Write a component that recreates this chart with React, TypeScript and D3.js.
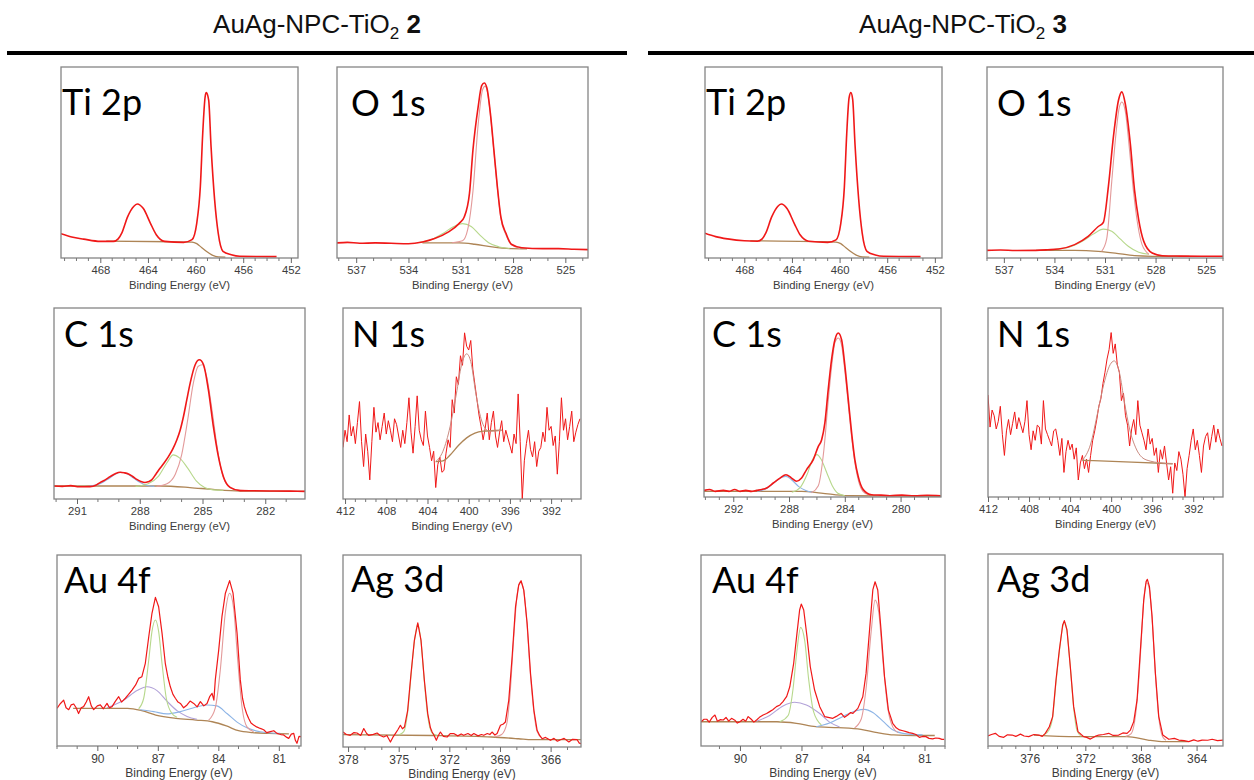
import * as React from 'react'
import * as d3 from 'd3'

// ---- sample titles ----
const sampleNames = ['AuAg-NPC-TiO', 'AuAg-NPC-TiO']
const sampleIds = ['2', '3']

// ---- tick labels (binding energy, eV) ----
const ti2pTicks = [468, 464, 460, 456, 452]
const o1sTicks = [537, 534, 531, 528, 525]
const c1sTicksL = [291, 288, 285, 282]
const c1sTicksR = [292, 288, 284, 280]
const n1sTicks = [412, 408, 404, 400, 396, 392]
const au4fTicks = [90, 87, 84, 81]
const ag3dTicksL = [378, 375, 372, 369, 366]
const ag3dTicksR = [376, 372, 368, 364]

// ---- energy windows ----
const ti2pDomain = [471.3, 451.4]
const o1sDomainL = [538.1, 523.7]
const o1sDomainR = [538.0, 524.0]
const c1sDomainL = [292.1, 280.1]
const c1sDomainR = [294.1, 277.1]
const n1sDomainL = [412.2, 389.1]
const n1sDomainR = [412.0, 389.1]
const au4fDomainL = [92.0, 79.9]
const au4fDomainR = [91.9, 80.0]
const ag3dDomainL = [378.3, 364.2]
const ag3dDomainR = [379.0, 362.1]

// ---- spectra: [binding energy, relative intensity] ----
const ti2pL = [[471.3,0.127],[470.4,0.11],[469.4,0.099],[468.0,0.087],[466.9,0.087],[466.5,0.1],[466.2,0.13],[465.7,0.217],[465.2,0.27],[464.9,0.283],[464.4,0.26],[463.8,0.183],[463.3,0.122],[462.6,0.087],[461.0,0.082],[460.3,0.096],[459.9,0.183],[459.6,0.374],[459.4,0.652],[459.2,0.843],[459.1,0.866],[458.9,0.826],[458.7,0.583],[458.4,0.304],[458.1,0.13],[457.7,0.035],[457.0,0.017],[456.3,0.009],[453.2,0.007]]
const ti2pBgL = [[467.5,0.088],[462.0,0.085],[460.3,0.083],[459.9,0.075],[459.5,0.055],[459.1,0.035],[458.6,0.015],[458.1,0.006],[457.5,0.005]]
const ti2pR = [[471.3,0.13],[470.4,0.112],[469.4,0.1],[468.0,0.09],[466.9,0.088],[466.5,0.1],[466.2,0.13],[465.7,0.215],[465.2,0.27],[464.9,0.283],[464.4,0.258],[463.8,0.18],[463.3,0.12],[462.6,0.088],[461.0,0.082],[460.3,0.095],[459.9,0.18],[459.6,0.37],[459.4,0.65],[459.2,0.84],[459.05,0.866],[458.9,0.83],[458.7,0.59],[458.4,0.31],[458.1,0.13],[457.7,0.035],[457.0,0.016],[456.3,0.009],[453.2,0.007]]
const ti2pBgR = [[467.5,0.09],[462.0,0.086],[460.3,0.083],[459.9,0.075],[459.5,0.055],[459.1,0.035],[458.6,0.015],[458.1,0.006],[457.5,0.005]]

const o1sL = [[538.1,0.079],[537.5,0.082],[536.8,0.077],[535.9,0.079],[535.0,0.077],[534.0,0.075],[533.2,0.084],[532.5,0.102],[531.7,0.137],[531.1,0.18],[530.8,0.215],[530.5,0.338],[530.3,0.566],[530.0,0.793],[529.8,0.902],[529.65,0.916],[529.5,0.89],[529.3,0.757],[529.1,0.566],[528.9,0.373],[528.7,0.215],[528.4,0.128],[528.1,0.072],[527.5,0.054],[526.3,0.049],[525.4,0.049],[524.5,0.046],[523.7,0.044]]
const o1sGreenL = [[533.5,0.08],[532.7,0.095],[532.0,0.13],[531.4,0.165],[530.9,0.18],[530.4,0.165],[529.9,0.12],[529.4,0.08],[528.8,0.058],[528.2,0.05]]
const o1sMainL = [[531.5,0.08],[530.9,0.09],[530.6,0.15],[530.3,0.35],[530.0,0.7],[529.75,0.88],[529.6,0.9],[529.45,0.86],[529.3,0.75],[529.1,0.56],[528.9,0.37],[528.7,0.21],[528.4,0.12],[528.1,0.07],[527.6,0.05]]
const o1sBgL = [[533.2,0.079],[531.1,0.079],[530.2,0.072],[529.2,0.058],[528.1,0.049],[527.2,0.048]]
const o1sR = [[538.0,0.04],[537.2,0.042],[536.3,0.039],[535.1,0.04],[534.4,0.043],[533.75,0.047],[532.8,0.07],[532.0,0.113],[531.4,0.165],[531.1,0.186],[530.8,0.374],[530.5,0.635],[530.2,0.826],[530.0,0.87],[529.8,0.809],[529.5,0.6],[529.25,0.357],[529.0,0.2],[528.7,0.087],[528.2,0.026],[527.6,0.012],[526.5,0.01],[525.3,0.009],[524.0,0.009]]
const o1sGreenR = [[534.0,0.045],[533.0,0.06],[532.3,0.09],[531.7,0.125],[531.1,0.151],[530.6,0.14],[530.1,0.1],[529.6,0.06],[529.0,0.03],[528.4,0.02]]
const o1sMainR = [[531.2,0.035],[530.9,0.1],[530.6,0.4],[530.35,0.65],[530.15,0.79],[530.0,0.817],[529.8,0.77],[529.55,0.57],[529.3,0.34],[529.05,0.17],[528.8,0.07],[528.4,0.02]]
const o1sBgR = [[535.1,0.04],[532.8,0.04],[531.4,0.035],[530.4,0.026],[529.25,0.012],[528.2,0.009],[526.0,0.008]]

const c1sL = [[292.1,0.068],[291.7,0.066],[291.3,0.07],[290.9,0.064],[290.38,0.065],[290.1,0.072],[289.9,0.086],[289.65,0.1],[289.42,0.117],[289.15,0.134],[288.94,0.14],[288.74,0.137],[288.54,0.131],[288.34,0.118],[288.14,0.103],[287.95,0.092],[287.75,0.086],[287.6,0.09],[287.43,0.1],[287.23,0.13],[287.03,0.161],[286.83,0.19],[286.63,0.222],[286.43,0.26],[286.23,0.309],[286.07,0.36],[285.91,0.432],[285.75,0.52],[285.59,0.607],[285.35,0.703],[285.15,0.729],[284.95,0.703],[284.72,0.572],[284.48,0.379],[284.24,0.222],[284.0,0.117],[283.68,0.061],[283.2,0.044],[282.6,0.043],[281.6,0.042],[280.8,0.041],[280.1,0.04]]
const c1sBlueL = [[290.4,0.068],[289.9,0.08],[289.5,0.105],[289.2,0.128],[288.9,0.14],[288.6,0.132],[288.3,0.11],[288.0,0.088],[287.7,0.072],[287.3,0.066]]
const c1sGreenL = [[288.2,0.066],[287.6,0.08],[287.1,0.12],[286.7,0.19],[286.4,0.231],[286.1,0.215],[285.7,0.16],[285.3,0.095],[284.9,0.06],[284.5,0.048],[284.0,0.046]]
const c1sMainL = [[287.2,0.066],[286.7,0.08],[286.3,0.13],[286.0,0.23],[285.7,0.42],[285.45,0.6],[285.2,0.695],[285.0,0.703],[284.8,0.64],[284.55,0.47],[284.3,0.27],[284.05,0.13],[283.75,0.065],[283.4,0.048],[283.0,0.044]]
const c1sBgL = [[292.1,0.068],[287.0,0.068],[285.6,0.06],[284.5,0.05],[283.2,0.042],[280.1,0.04]]
const c1sR = [[294.1,0.035],[293.7,0.04],[293.3,0.03],[292.71,0.035],[292.3,0.03],[291.9,0.04],[291.52,0.03],[291.1,0.035],[290.7,0.03],[290.32,0.035],[289.95,0.04],[289.61,0.048],[289.13,0.074],[288.65,0.1],[288.22,0.118],[287.82,0.1],[287.46,0.083],[287.1,0.1],[286.74,0.145],[286.26,0.198],[285.9,0.268],[285.66,0.303],[285.43,0.392],[285.19,0.568],[284.95,0.727],[284.71,0.832],[284.47,0.868],[284.23,0.832],[283.99,0.691],[283.75,0.515],[283.51,0.339],[283.28,0.198],[283.04,0.109],[282.68,0.039],[282.08,0.012],[281.4,0.01],[280.77,0.007],[279.9,0.01],[279.0,0.006],[278.1,0.009],[277.13,0.007]]
const c1sBlueR = [[290.3,0.03],[289.6,0.045],[289.0,0.08],[288.5,0.105],[288.22,0.109],[287.8,0.09],[287.3,0.055],[286.8,0.035],[286.3,0.025]]
const c1sGreenR = [[287.8,0.025],[287.2,0.05],[286.7,0.12],[286.3,0.2],[286.0,0.224],[285.7,0.2],[285.3,0.13],[284.9,0.06],[284.5,0.02],[284.0,0.007]]
const c1sMainR = [[286.4,0.022],[285.9,0.06],[285.5,0.25],[285.2,0.5],[284.9,0.72],[284.7,0.82],[284.47,0.841],[284.25,0.81],[284.0,0.67],[283.75,0.49],[283.5,0.31],[283.25,0.17],[283.0,0.08],[282.7,0.03],[282.3,0.012]]
const c1sBgR = [[294.1,0.03],[287.1,0.03],[285.7,0.021],[283.8,0.007],[277.1,0.004]]

// N 1s raw counts on a 0.2 eV grid
const n1sStep = 0.2
const n1sCountsL = [0.27,0.36,0.30,0.44,0.33,0.38,0.29,0.40,0.51,0.30,0.17,0.34,0.25,0.10,0.30,0.48,0.35,0.40,0.31,0.38,0.45,0.34,0.41,0.36,0.30,0.42,0.39,0.33,0.27,0.36,0.29,0.40,0.53,0.35,0.24,0.38,0.54,0.36,0.31,0.28,0.46,0.33,0.27,0.20,0.25,0.06,0.18,0.22,0.14,0.15,0.24,0.31,0.27,0.52,0.45,0.64,0.60,0.75,0.70,0.87,0.80,0.78,0.83,0.68,0.60,0.52,0.44,0.38,0.31,0.37,0.45,0.31,0.40,0.46,0.33,0.27,0.35,0.41,0.30,0.36,0.32,0.28,0.24,0.34,0.29,0.55,0.30,0.00,0.20,0.29,0.36,0.26,0.22,0.30,0.17,0.25,0.27,0.35,0.30,0.48,0.36,0.38,0.28,0.33,0.13,0.30,0.53,0.36,0.42,0.31,0.38,0.46,0.30,0.35,0.39,0.42]
const n1sCountsR = [0.54,0.37,0.46,0.43,0.36,0.40,0.48,0.33,0.22,0.35,0.41,0.33,0.39,0.45,0.36,0.42,0.38,0.34,0.40,0.51,0.33,0.25,0.35,0.30,0.38,0.37,0.28,0.51,0.36,0.33,0.30,0.27,0.35,0.36,0.30,0.22,0.31,0.13,0.24,0.30,0.25,0.28,0.20,0.26,0.09,0.18,0.22,0.15,0.20,0.13,0.22,0.30,0.35,0.41,0.48,0.52,0.60,0.66,0.73,0.78,0.87,0.76,0.81,0.70,0.66,0.51,0.55,0.43,0.38,0.27,0.36,0.41,0.33,0.51,0.38,0.34,0.30,0.25,0.36,0.28,0.31,0.22,0.26,0.13,0.25,0.20,0.27,0.18,0.09,0.16,0.02,0.18,0.14,0.24,0.20,0.12,0.00,0.15,0.22,0.30,0.36,0.25,0.30,0.22,0.13,0.27,0.32,0.34,0.25,0.32,0.38,0.29,0.36,0.31,0.27]
const n1sFitL = [[403.2,0.196],[402.5,0.25],[401.8,0.38],[401.2,0.55],[400.7,0.7],[400.2,0.76],[399.8,0.72],[399.3,0.55],[398.8,0.42],[398.4,0.37],[398.0,0.355],[396.8,0.36]]
const n1sBgL = [[403.2,0.196],[402.5,0.2],[401.8,0.23],[401.0,0.28],[400.2,0.32],[399.4,0.345],[398.6,0.355],[396.8,0.36]]
const n1sFitR = [[402.8,0.194],[402.0,0.28],[401.3,0.45],[400.7,0.6],[400.1,0.7],[399.7,0.72],[399.2,0.66],[398.7,0.5],[398.2,0.36],[397.6,0.26],[397.0,0.21],[396.2,0.19],[395.4,0.182],[394.0,0.176]]
const n1sBgR = [[402.8,0.194],[398.0,0.185],[394.0,0.176]]

const au4fL = [[92.0,0.197],[91.85,0.22],[91.67,0.24],[91.55,0.2],[91.42,0.19],[91.3,0.215],[91.17,0.22],[91.05,0.2],[90.93,0.17],[90.8,0.2],[90.68,0.206],[90.55,0.23],[90.43,0.258],[90.3,0.21],[90.18,0.19],[90.0,0.21],[89.85,0.215],[89.7,0.195],[89.52,0.223],[89.4,0.2],[89.27,0.206],[89.1,0.235],[88.94,0.258],[88.8,0.23],[88.61,0.25],[88.45,0.27],[88.28,0.293],[88.1,0.32],[87.95,0.354],[87.79,0.363],[87.62,0.433],[87.45,0.572],[87.29,0.695],[87.12,0.778],[86.96,0.729],[86.79,0.59],[86.63,0.433],[86.5,0.36],[86.38,0.31],[86.25,0.27],[86.13,0.25],[86.0,0.23],[85.88,0.223],[85.72,0.2],[85.55,0.215],[85.4,0.235],[85.22,0.223],[85.05,0.205],[84.89,0.232],[84.72,0.21],[84.56,0.223],[84.42,0.26],[84.31,0.276],[84.22,0.24],[84.15,0.346],[83.98,0.503],[83.82,0.677],[83.65,0.8],[83.44,0.866],[83.27,0.8],[83.07,0.59],[82.91,0.346],[82.8,0.25],[82.71,0.206],[82.6,0.17],[82.5,0.145],[82.38,0.12],[82.25,0.11],[82.1,0.1],[81.92,0.092],[81.75,0.085],[81.6,0.07],[81.42,0.075],[81.25,0.08],[81.09,0.066],[80.9,0.06],[80.76,0.058],[80.6,0.045],[80.51,0.04],[80.38,0.062],[80.26,0.066],[80.18,0.03],[80.1,0.014],[80.0,0.05],[79.9,0.049]]
const au4fBgL = [[91.2,0.197],[88.5,0.197],[87.8,0.185],[87.1,0.162],[86.1,0.145],[85.1,0.136],[84.3,0.127],[83.6,0.105],[83.0,0.08],[82.3,0.07],[81.5,0.066],[80.5,0.064]]
const au4fPurpleL = [[89.52,0.2],[88.7,0.24],[88.03,0.29],[87.54,0.31],[87.04,0.29],[86.55,0.235],[86.05,0.185],[85.55,0.155],[85.06,0.14]]
const au4fGreenL = [[87.95,0.195],[87.7,0.25],[87.45,0.45],[87.29,0.6],[87.12,0.66],[86.96,0.6],[86.79,0.43],[86.58,0.25],[86.3,0.17],[86.05,0.15]]
const au4fBlueL = [[87.87,0.19],[87.2,0.18],[86.55,0.168],[85.88,0.18],[85.22,0.2],[84.56,0.215],[84.07,0.21],[83.57,0.17],[83.07,0.125],[82.58,0.095],[81.92,0.075],[80.93,0.066]]
const au4fMainL = [[84.48,0.135],[84.15,0.2],[83.9,0.4],[83.65,0.7],[83.44,0.8],[83.24,0.72],[83.04,0.45],[82.82,0.2],[82.58,0.1],[82.25,0.075]]
const au4fR = [[91.9,0.127],[91.75,0.14],[91.62,0.14],[91.5,0.125],[91.35,0.15],[91.22,0.162],[91.1,0.13],[90.95,0.138],[90.81,0.136],[90.68,0.15],[90.55,0.13],[90.41,0.145],[90.25,0.135],[90.13,0.12],[90.0,0.127],[89.85,0.14],[89.72,0.13],[89.6,0.154],[89.45,0.14],[89.32,0.125],[89.19,0.136],[89.05,0.15],[88.87,0.162],[88.7,0.17],[88.55,0.18],[88.4,0.19],[88.22,0.206],[88.05,0.215],[87.9,0.232],[87.72,0.26],[87.57,0.31],[87.38,0.433],[87.22,0.59],[87.09,0.712],[87.01,0.743],[86.89,0.712],[86.73,0.572],[86.57,0.415],[86.36,0.293],[86.11,0.206],[85.87,0.154],[85.7,0.15],[85.47,0.145],[85.3,0.155],[85.06,0.171],[84.9,0.15],[84.74,0.162],[84.6,0.175],[84.49,0.171],[84.25,0.197],[84.01,0.258],[83.85,0.38],[83.68,0.607],[83.52,0.817],[83.41,0.86],[83.28,0.817],[83.12,0.607],[82.95,0.363],[82.76,0.188],[82.55,0.119],[82.38,0.095],[82.22,0.084],[82.05,0.08],[81.9,0.075],[81.75,0.07],[81.58,0.066],[81.42,0.06],[81.25,0.045],[81.1,0.05],[80.93,0.049],[80.78,0.04],[80.6,0.037],[80.45,0.042],[80.28,0.04],[80.15,0.035],[80.04,0.035]]
const au4fBgR = [[91.9,0.127],[88.2,0.127],[87.25,0.119],[86.3,0.101],[85.2,0.096],[84.1,0.087],[83.3,0.07],[82.5,0.058],[81.5,0.055],[80.5,0.055]]
const au4fPurpleR = [[89.19,0.13],[88.55,0.16],[87.9,0.21],[87.33,0.229],[86.76,0.215],[86.11,0.17],[85.63,0.125],[85.14,0.1]]
const au4fGreenR = [[88.06,0.127],[87.65,0.16],[87.41,0.3],[87.22,0.5],[87.04,0.621],[86.84,0.55],[86.65,0.35],[86.41,0.18],[86.03,0.11]]
const au4fBlueR = [[86.28,0.101],[85.63,0.12],[84.98,0.155],[84.33,0.185],[83.93,0.192],[83.52,0.175],[83.03,0.13],[82.55,0.085],[82.06,0.066],[81.09,0.058]]
const au4fMainR = [[84.41,0.095],[84.09,0.14],[83.85,0.3],[83.6,0.6],[83.41,0.764],[83.23,0.7],[83.03,0.45],[82.79,0.2],[82.55,0.1],[82.3,0.07]]

const ag3dL = [[378.3,0.078],[378.1,0.065],[377.87,0.061],[377.65,0.075],[377.47,0.073],[377.25,0.06],[377.07,0.096],[376.9,0.07],[376.78,0.061],[376.5,0.066],[376.28,0.073],[376.1,0.06],[375.89,0.052],[375.7,0.06],[375.49,0.026],[375.35,0.05],[375.2,0.07],[375.05,0.09],[374.9,0.113],[374.78,0.095],[374.66,0.104],[374.47,0.19],[374.27,0.383],[374.07,0.557],[373.87,0.647],[373.68,0.557],[373.48,0.348],[373.28,0.174],[373.12,0.1],[373.02,0.078],[372.9,0.06],[372.77,0.035],[372.65,0.06],[372.53,0.078],[372.35,0.055],[372.13,0.052],[371.95,0.07],[371.74,0.07],[371.5,0.058],[371.3,0.068],[371.15,0.061],[370.9,0.07],[370.7,0.06],[370.55,0.07],[370.3,0.058],[370.1,0.065],[369.96,0.061],[369.75,0.07],[369.6,0.065],[369.47,0.078],[369.3,0.062],[369.17,0.07],[368.97,0.113],[368.8,0.12],[368.68,0.13],[368.48,0.243],[368.28,0.47],[368.08,0.73],[367.89,0.843],[367.75,0.866],[367.59,0.817],[367.39,0.643],[367.19,0.383],[366.99,0.191],[366.8,0.087],[366.65,0.06],[366.5,0.043],[366.3,0.05],[366.01,0.035],[365.8,0.045],[365.6,0.03],[365.41,0.038],[365.2,0.045],[364.92,0.026],[364.7,0.04],[364.43,0.038],[364.3,0.02],[364.19,0.017]]
const ag3dBgL = [[378.3,0.064],[373.0,0.06],[369.5,0.052],[367.9,0.043],[367.1,0.038],[364.2,0.038]]
const ag3dGreenL = [[375.0,0.063],[374.7,0.08],[374.47,0.18],[374.27,0.37],[374.07,0.55],[373.87,0.64],[373.68,0.55],[373.48,0.34],[373.28,0.16],[373.0,0.07],[372.7,0.06]]
const ag3dMainL = [[369.3,0.053],[368.9,0.065],[368.6,0.12],[368.4,0.28],[368.2,0.55],[368.0,0.78],[367.8,0.86],[367.6,0.82],[367.4,0.64],[367.2,0.38],[367.0,0.19],[366.8,0.08],[366.5,0.045]]
const ag3dR = [[379.0,0.052],[378.75,0.06],[378.47,0.066],[378.2,0.05],[377.87,0.045],[377.6,0.058],[377.27,0.057],[377.0,0.05],[376.67,0.062],[376.4,0.052],[376.07,0.049],[375.7,0.06],[375.35,0.057],[375.1,0.05],[374.88,0.066],[374.59,0.1],[374.35,0.153],[374.11,0.344],[373.87,0.5],[373.63,0.63],[373.51,0.653],[373.32,0.604],[373.08,0.413],[372.84,0.205],[372.53,0.075],[372.3,0.06],[372.12,0.049],[371.9,0.045],[371.64,0.036],[371.3,0.05],[371.04,0.057],[370.7,0.06],[370.32,0.066],[370.0,0.055],[369.6,0.057],[369.3,0.068],[369.0,0.066],[368.76,0.083],[368.52,0.127],[368.28,0.24],[368.04,0.5],[367.8,0.76],[367.63,0.856],[367.54,0.868],[367.39,0.83],[367.2,0.674],[366.96,0.378],[366.72,0.153],[366.43,0.057],[366.2,0.045],[366.0,0.035],[365.6,0.04],[365.28,0.031],[364.9,0.028],[364.56,0.023],[364.2,0.032],[363.9,0.025],[363.6,0.031],[363.2,0.03],[362.88,0.035],[362.5,0.028],[362.05,0.031]]
const ag3dBgR = [[375.7,0.057],[372.6,0.049],[369.0,0.049],[367.5,0.031],[366.3,0.023],[364.6,0.023]]
const ag3dGreenR = [[375.0,0.057],[374.6,0.085],[374.35,0.15],[374.11,0.33],[373.87,0.49],[373.63,0.62],[373.51,0.645],[373.32,0.6],[373.08,0.41],[372.84,0.2],[372.6,0.08],[372.3,0.05]]
const ag3dMainR = [[369.1,0.05],[368.7,0.065],[368.45,0.13],[368.2,0.3],[368.0,0.52],[367.8,0.76],[367.6,0.85],[367.4,0.82],[367.2,0.66],[366.96,0.37],[366.72,0.15],[366.45,0.05],[366.2,0.03]]

const gridSpectrum = (start, counts) => counts.map((c, i) => [start - i * n1sStep, c])

const RED = '#f01818'
const MAIN = '#e39a9a'
const GREEN = '#b7d88c'
const BLUE = '#8db4e6'
const PURPLE = '#b2a2d8'
const BROWN = '#ae8556'
const FIT = '#c98a80'

const smooth = d3.curveMonotoneX
const raw = d3.curveLinear

const panels = [
  { name: 'Ti 2p', box: [61, 67, 298, 258], lx: 1, ly: 48, fs: 11.3, domain: ti2pDomain, ticks: ti2pTicks,
    series: [[ti2pBgL, BROWN, 1.3, smooth], [ti2pL, RED, 1.6, smooth]] },
  { name: 'O 1s', box: [337, 67, 588, 258], lx: 14, ly: 49, fs: 11.3, domain: o1sDomainL, ticks: o1sTicks,
    series: [[o1sBgL, BROWN, 1.3, smooth], [o1sGreenL, GREEN, 1.1, smooth], [o1sMainL, MAIN, 1.1, smooth], [o1sL, RED, 1.6, smooth]] },
  { name: 'C 1s', box: [54, 308, 305, 499], lx: 10, ly: 39, fs: 11.3, domain: c1sDomainL, ticks: c1sTicksL,
    series: [[c1sBgL, BROWN, 1.3, smooth], [c1sBlueL, BLUE, 1.1, smooth], [c1sGreenL, GREEN, 1.1, smooth], [c1sMainL, MAIN, 1.1, smooth], [c1sL, RED, 1.6, smooth]] },
  { name: 'N 1s', box: [343, 308, 581, 499], lx: 9, ly: 39, fs: 11.3, domain: n1sDomainL, ticks: n1sTicks,
    series: [[gridSpectrum(412.2, n1sCountsL), RED, 1, raw], [n1sBgL, BROWN, 1.3, smooth], [n1sFitL, FIT, 1, smooth]] },
  { name: 'Au 4f', box: [57, 555, 301, 746], lx: 7, ly: 38, fs: 12, domain: au4fDomainL, ticks: au4fTicks,
    series: [[au4fBgL, BROWN, 1.3, smooth], [au4fPurpleL, PURPLE, 1.1, smooth], [au4fBlueL, BLUE, 1.1, smooth], [au4fGreenL, GREEN, 1.1, smooth], [au4fMainL, MAIN, 1.1, smooth], [au4fL, RED, 1.2, raw]] },
  { name: 'Ag 3d', box: [343, 555, 581, 747], lx: 8, ly: 37, fs: 12, domain: ag3dDomainL, ticks: ag3dTicksL,
    series: [[ag3dBgL, BROWN, 1.3, smooth], [ag3dGreenL, GREEN, 1.1, smooth], [ag3dMainL, MAIN, 1.1, smooth], [ag3dL, RED, 1.2, raw]] },
  { name: 'Ti 2p', box: [705, 67, 942, 258], lx: 1, ly: 48, fs: 11.3, domain: ti2pDomain, ticks: ti2pTicks,
    series: [[ti2pBgR, BROWN, 1.3, smooth], [ti2pR, RED, 1.6, smooth]] },
  { name: 'O 1s', box: [987, 67, 1223, 258], lx: 10, ly: 49, fs: 11.3, domain: o1sDomainR, ticks: o1sTicks,
    series: [[o1sBgR, BROWN, 1.3, smooth], [o1sGreenR, GREEN, 1.1, smooth], [o1sMainR, MAIN, 1.1, smooth], [o1sR, RED, 1.6, smooth]] },
  { name: 'C 1s', box: [704, 308, 941, 497], lx: 8, ly: 39, fs: 11.3, domain: c1sDomainR, ticks: c1sTicksR,
    series: [[c1sBgR, BROWN, 1.3, smooth], [c1sBlueR, BLUE, 1.1, smooth], [c1sGreenR, GREEN, 1.1, smooth], [c1sMainR, MAIN, 1.1, smooth], [c1sR, RED, 1.6, smooth]] },
  { name: 'N 1s', box: [988, 308, 1223, 497], lx: 9, ly: 39, fs: 11.3, domain: n1sDomainR, ticks: n1sTicks,
    series: [[gridSpectrum(412.0, n1sCountsR), RED, 1, raw], [n1sBgR, BROWN, 1.3, smooth], [n1sFitR, FIT, 1, smooth]] },
  { name: 'Au 4f', box: [701, 555, 945, 746], lx: 11, ly: 38, fs: 12, domain: au4fDomainR, ticks: au4fTicks,
    series: [[au4fBgR, BROWN, 1.3, smooth], [au4fPurpleR, PURPLE, 1.1, smooth], [au4fBlueR, BLUE, 1.1, smooth], [au4fGreenR, GREEN, 1.1, smooth], [au4fMainR, MAIN, 1.1, smooth], [au4fR, RED, 1.2, raw]] },
  { name: 'Ag 3d', box: [988, 554, 1223, 746], lx: 9, ly: 38, fs: 12, domain: ag3dDomainR, ticks: ag3dTicksR,
    series: [[ag3dBgR, BROWN, 1.3, smooth], [ag3dGreenR, GREEN, 1.1, smooth], [ag3dMainR, MAIN, 1.1, smooth], [ag3dR, RED, 1.2, raw]] },
]

const headers = [
  { cx: 317, line: [7, 627] },
  { cx: 963, line: [648, 1254] },
]

export default class App extends React.Component {
  ref = React.createRef<SVGSVGElement>()

  componentDidMount() {
    this.draw()
  }

  draw() {
    const svg = d3.select(this.ref.current)
    svg.selectAll('*').remove()

    headers.forEach((h, i) => {
      const t = svg.append('text')
        .attr('x', h.cx).attr('y', 33)
        .attr('text-anchor', 'middle')
        .attr('font-family', '"Liberation Sans", Arial, sans-serif')
        .attr('font-size', 26)
        .attr('fill', '#111')
      t.append('tspan').text(sampleNames[i])
      t.append('tspan').attr('font-size', 17).attr('dy', 6).text('2')
      t.append('tspan').attr('dy', -6).text(' ')
      t.append('tspan').attr('font-weight', 'bold').text(sampleIds[i])

      svg.append('line')
        .attr('x1', h.line[0]).attr('x2', h.line[1])
        .attr('y1', 53).attr('y2', 53)
        .attr('stroke', '#000').attr('stroke-width', 4)
    })

    panels.forEach((p, i) => {
      const [x0, y0, x1, y1] = p.box
      const x = d3.scaleLinear().domain(p.domain).range([x0, x1])
      const y = d3.scaleLinear().domain([0, 1]).range([y1, y0])
      const g = svg.append('g').attr('class', 'panel')

      g.append('clipPath').attr('id', `clip${i}`)
        .append('rect')
        .attr('x', x0).attr('y', y0)
        .attr('width', x1 - x0).attr('height', y1 - y0)

      const curves = g.append('g').attr('clip-path', `url(#clip${i})`)
      p.series.forEach(([data, color, width, curve]) => {
        const line = d3.line()
          .x(d => x(d[0]))
          .y(d => y(d[1]))
          .curve(curve)
        curves.append('path')
          .datum(data)
          .attr('d', line)
          .attr('fill', 'none')
          .attr('stroke', color)
          .attr('stroke-width', width)
          .attr('stroke-linejoin', 'round')
      })

      g.append('rect')
        .attr('x', x0).attr('y', y0)
        .attr('width', x1 - x0).attr('height', y1 - y0)
        .attr('fill', 'none')
        .attr('stroke', '#858585')
        .attr('stroke-width', 1.3)

      const axis = d3.axisBottom(x)
        .tickValues(p.ticks)
        .tickSize(5)
        .tickPadding(3)
        .tickFormat(d3.format('d'))
      const ax = g.append('g')
        .attr('transform', `translate(0,${y1})`)
        .call(axis)
      ax.select('.domain').remove()
      ax.selectAll('line').attr('stroke', '#666')
      ax.selectAll('text')
        .attr('fill', '#3c3c3c')
        .attr('font-size', p.fs)
        .attr('font-family', '"Liberation Sans", Arial, sans-serif')

      const lo = Math.ceil(Math.min(...p.domain))
      const hi = Math.floor(Math.max(...p.domain))
      const minor = d3.range(lo, hi + 1).filter(v => !p.ticks.includes(v))
      g.append('g').selectAll('line')
        .data(minor)
        .join('line')
        .attr('x1', d => x(d)).attr('x2', d => x(d))
        .attr('y1', y1).attr('y2', y1 + 3)
        .attr('stroke', '#777')

      g.append('text')
        .attr('x', (x0 + x1) / 2).attr('y', y1 + 31)
        .attr('text-anchor', 'middle')
        .attr('font-family', '"Liberation Sans", Arial, sans-serif')
        .attr('font-size', p.fs)
        .attr('fill', '#3c3c3c')
        .text('Binding Energy (eV)')

      g.append('text')
        .attr('x', x0 + p.lx).attr('y', y0 + p.ly)
        .attr('font-family', 'Lato, "Open Sans", sans-serif')
        .attr('font-size', 36)
        .attr('fill', '#000')
        .text(p.name)
    })
  }

  render() {
    return (
      <svg ref={this.ref} width={1254} height={780}
        style={{ position: 'absolute', left: 0, top: 0, background: '#fff' }} />
    )
  }
}
